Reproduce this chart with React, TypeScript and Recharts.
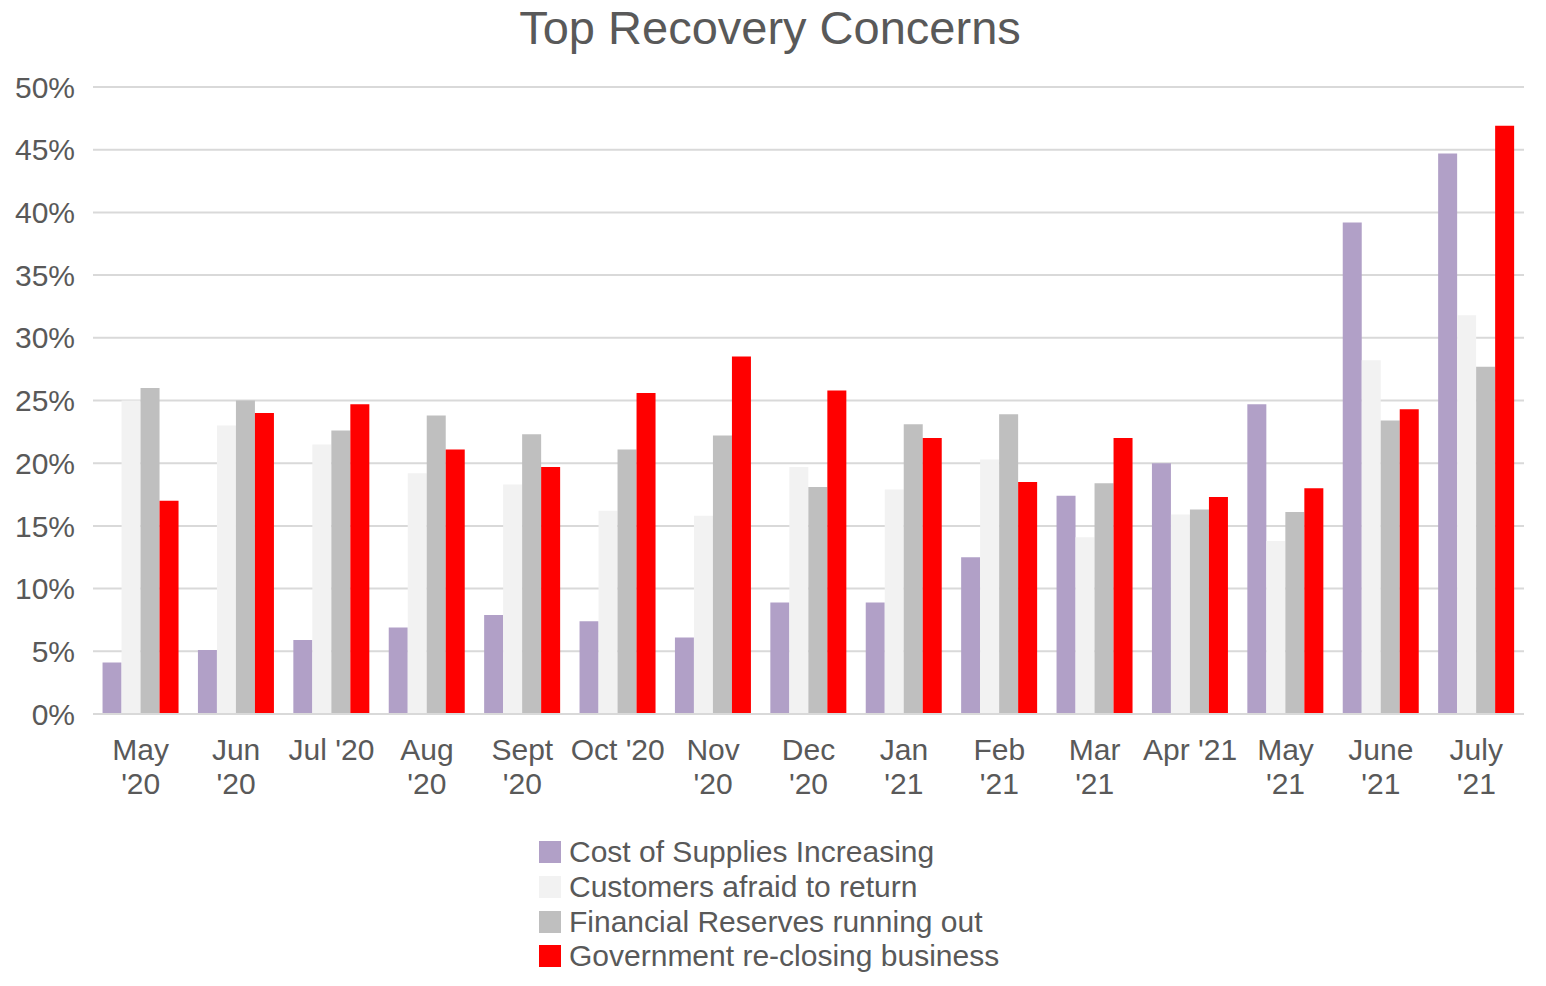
import React from "react";
import { BarChart, Bar, XAxis, YAxis, CartesianGrid } from "recharts";

const months = [
  "May\n'20", "Jun\n'20", "Jul '20", "Aug\n'20", "Sept\n'20", "Oct '20", "Nov\n'20",
  "Dec\n'20", "Jan\n'21", "Feb\n'21", "Mar\n'21", "Apr '21", "May\n'21", "June\n'21", "July\n'21",
];
const costSupplies = [4.1, 5.1, 5.9, 6.9, 7.9, 7.4, 6.1, 8.9, 8.9, 12.5, 17.4, 20.0, 24.7, 39.2, 44.7];
const customersAfraid = [25.0, 23.0, 21.5, 19.2, 18.3, 16.2, 15.8, 19.7, 17.9, 20.3, 14.1, 15.9, 13.8, 28.2, 31.8];
const reservesOut = [26.0, 25.0, 22.6, 23.8, 22.3, 21.1, 22.2, 18.1, 23.1, 23.9, 18.4, 16.3, 16.1, 23.4, 27.7];
const govClosing = [17.0, 24.0, 24.7, 21.1, 19.7, 25.6, 28.5, 25.8, 22.0, 18.5, 22.0, 17.3, 18.0, 24.3, 46.9];
const yTicks = [0, 5, 10, 15, 20, 25, 30, 35, 40, 45, 50];

const series = [
  { key: "cost", name: "Cost of Supplies Increasing", color: "#b1a0c7" },
  { key: "customers", name: "Customers afraid to return", color: "#f2f2f2" },
  { key: "reserves", name: "Financial Reserves running out", color: "#bfbfbf" },
  { key: "gov", name: "Government re-closing business", color: "#ff0000" },
];

const data = months.map((m, i) => ({
  month: m,
  cost: costSupplies[i],
  customers: customersAfraid[i],
  reserves: reservesOut[i],
  gov: govClosing[i],
}));

const FONT = "'Liberation Sans', Arial, sans-serif";
const TEXT = "#595959";

const MonthTick = (props: any) => {
  const { x, y, payload } = props;
  const lines = String(payload.value).split("\n");
  return (
    <text x={x} y={y} textAnchor="middle" fill={TEXT} fontSize={30} fontFamily={FONT}>
      {lines.map((l, i) => (
        <tspan key={i} x={x} dy={i === 0 ? 38 : 34}>
          {l}
        </tspan>
      ))}
    </text>
  );
};

export default function App() {
  return (
    <div style={{ position: "relative", width: 1530, height: 970, background: "#fff" }}>
      <div
        style={{
          position: "absolute",
          left: 0,
          width: 1524,
          top: 0,
          textAlign: "center",
          fontFamily: FONT,
          fontSize: 47,
          color: TEXT,
          lineHeight: "40px",
        }}
      >
        Top Recovery Concerns
      </div>
      <BarChart
        width={1530}
        height={970}
        data={data}
        margin={{ top: 79, right: 14, bottom: 164, left: 0 }}
        barCategoryGap="10%"
        barGap={0}
      >
        <CartesianGrid vertical={false} stroke="#d9d9d9" strokeWidth={2} />
        <XAxis
          dataKey="month"
          interval={0}
          tick={<MonthTick />}
          tickLine={false}
          axisLine={{ stroke: "#d9d9d9", strokeWidth: 2 }}
          height={100}
        />
        <YAxis
          width={85}
          domain={[0, 50]}
          ticks={yTicks}
          tickFormatter={(v) => `${v}%`}
          axisLine={false}
          tickLine={false}
          tickSize={0}
          tickMargin={18}
          tick={{ fill: TEXT, fontSize: 30, fontFamily: FONT }}
        />
        {series.map((s) => (
          <Bar key={s.key} dataKey={s.key} name={s.name} fill={s.color} isAnimationActive={false} />
        ))}
      </BarChart>
      <div
        style={{
          position: "absolute",
          left: 531,
          top: 827,
          fontFamily: FONT,
          fontSize: 30,
          color: TEXT,
        }}
      >
        {series.map((s) => (
          <div key={s.key} style={{ display: "flex", alignItems: "center", height: 34.7 }}>
            <span style={{ width: 22, height: 22, background: s.color, marginRight: 8, display: "inline-block" }} />
            <span style={{ whiteSpace: "nowrap" }}>{s.name}</span>
          </div>
        ))}
      </div>
    </div>
  );
}
